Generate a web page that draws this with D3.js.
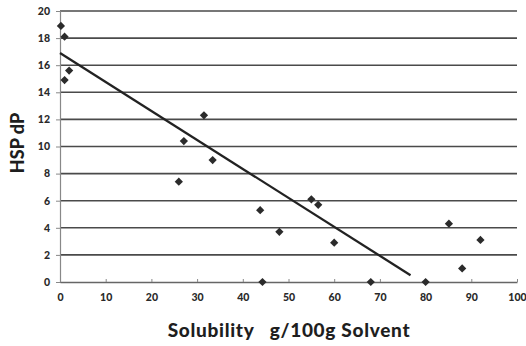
<!DOCTYPE html>
<html><head><meta charset="utf-8">
<script src="https://cdn.jsdelivr.net/npm/d3@7"></script>
<style>body{margin:0;background:#fff}svg{display:block}text{font-family:Lato,"Open Sans",sans-serif}</style>
</head><body><svg id="c" width="526" height="346"></svg>
<script>
const solubility = [0.2, 1, 1, 2, 26, 27.1, 31.5, 33.4, 43.8, 44.3, 48, 55, 56.5, 60, 68, 80, 85.1, 88, 92];
const hspDP =      [18.9, 18.1, 14.9, 15.6, 7.4, 10.4, 12.3, 9.0, 5.3, 0, 3.7, 6.1, 5.7, 2.9, 0, 0, 4.3, 1.0, 3.1];
const trendX = [0, 76.7];
const trendY = [16.9, 0.5];
const xTicks = [0,10,20,30,40,50,60,70,80,90,100];
const yTicks = [0,2,4,6,8,10,12,14,16,18,20];

const svg = d3.select("#c");
const L=60, R=517, T=11, B=282;
const x = d3.scaleLinear().domain([0,100]).range([L,R]);
const y = d3.scaleLinear().domain([0,20]).range([B,T]);

// gridlines
svg.append("g").selectAll("line").data(yTicks.filter(d=>d>0)).join("line")
  .attr("x1",L).attr("x2",R).attr("y1",d=>y(d)).attr("y2",d=>y(d))
  .attr("stroke","#4a4a4a").attr("stroke-width",1.6);

// y axis
const ya = svg.append("g").attr("transform",`translate(${L},0)`)
  .call(d3.axisLeft(y).tickValues(yTicks).tickSize(4).tickPadding(6));
ya.select(".domain").attr("stroke","#888").attr("stroke-width",1.2);
ya.selectAll(".tick line").attr("stroke","#888");
ya.selectAll("text").attr("font-size",10.5).attr("font-weight","900").attr("fill","#2a2a2a");

// x axis
const xa = svg.append("g").attr("transform",`translate(0,${B})`)
  .call(d3.axisBottom(x).tickValues(xTicks).tickSizeInner(-3).tickSizeOuter(0).tickPadding(12));
xa.select(".domain").attr("stroke","#666").attr("stroke-width",1.6);
xa.selectAll(".tick line").attr("stroke","#888");
xa.selectAll("text").attr("font-size",10.5).attr("font-weight","900").attr("fill","#2a2a2a");

// trend line
svg.append("line")
  .attr("x1",x(trendX[0])).attr("y1",y(trendY[0]))
  .attr("x2",x(trendX[1])).attr("y2",y(trendY[1]))
  .attr("stroke","#222").attr("stroke-width",2.3);

// points (square rotated 45°)
const sym = d3.symbol().type(d3.symbolSquare).size(34);
svg.append("g").selectAll("path").data(solubility.map((s,i)=>[s,hspDP[i]])).join("path")
  .attr("d",sym).attr("transform",d=>`translate(${x(d[0])},${y(d[1])}) rotate(45)`)
  .attr("fill","#2b2b2b");

// axis titles
svg.append("text").attr("x",289).attr("y",337).attr("text-anchor","middle")
  .attr("font-size",19).attr("font-weight","900").attr("fill","#1e1e1e")
  .attr("letter-spacing",0.7)
  .attr("xml:space","preserve").text("Solubility   g/100g Solvent");
svg.append("text").attr("transform","translate(24,143) rotate(-90)").attr("text-anchor","middle")
  .attr("font-size",18).attr("font-weight","900").attr("fill","#1e1e1e").text("HSP dP");
</script></body></html>
